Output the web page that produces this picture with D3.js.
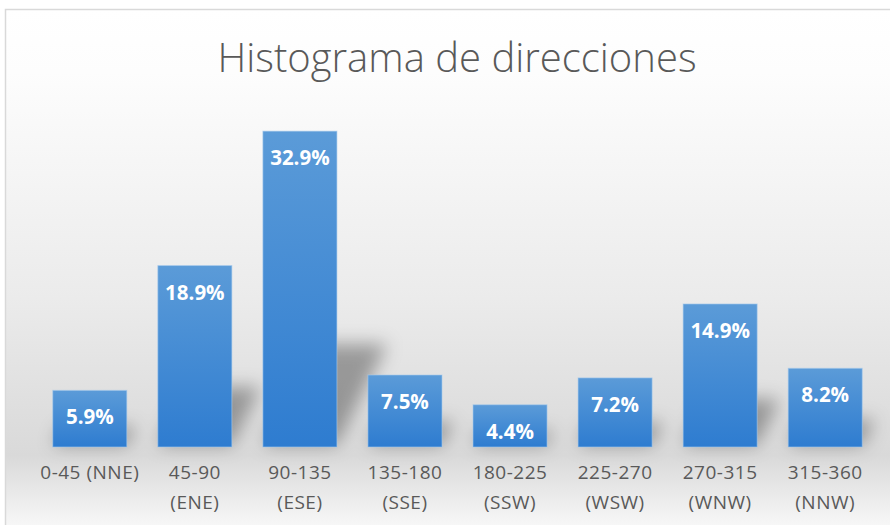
<!DOCTYPE html>
<html>
<head>
<meta charset="utf-8">
<script src="https://cdn.jsdelivr.net/npm/d3@7"></script>
<style>
    html, body { margin: 0; padding: 0; background: #ffffff; }
    svg { display: block; }
</style>
</head>
<body>
<div id="chart"></div>
<script>
    'use strict';

    var width = 890;
    var height = 525;

    // data
    var title = "Histograma de direcciones";
    var categories = ["0-45", "45-90", "90-135", "135-180", "180-225", "225-270", "270-315", "315-360"];
    var directions = ["NNE", "ENE", "ESE", "SSE", "SSW", "WSW", "WNW", "NNW"];
    var percentages = [5.9, 18.9, 32.9, 7.5, 4.4, 7.2, 14.9, 8.2];
    var tickLabels = [
        ["0-45 (NNE)"],
        ["45-90", "(ENE)"],
        ["90-135", "(ESE)"],
        ["135-180", "(SSE)"],
        ["180-225", "(SSW)"],
        ["225-270", "(WSW)"],
        ["270-315", "(WNW)"],
        ["315-360", "(NNW)"]
    ];

    var margin = {left: 37, right: 12, top: 111, bottom: 78};

    var svg = d3.select("#chart")
        .append("svg")
        .attr("width", width)
        .attr("height", height);

    var defs = svg.append("defs");

    // chart area background
    var bg = defs.append("linearGradient")
        .attr("id", "bgGrad")
        .attr("x1", 0).attr("y1", 0)
        .attr("x2", 0).attr("y2", 1);
    bg.append("stop").attr("offset", "0").attr("stop-color", "#ffffff");
    bg.append("stop").attr("offset", "0.12").attr("stop-color", "#fdfdfd");
    bg.append("stop").attr("offset", "0.55").attr("stop-color", "#ebebeb");
    bg.append("stop").attr("offset", "0.85").attr("stop-color", "#d9d9d9");
    bg.append("stop").attr("offset", "1").attr("stop-color", "#fbfbfb");

    var barGrad = defs.append("linearGradient")
        .attr("id", "barGrad")
        .attr("x1", 0).attr("y1", 0)
        .attr("x2", 0).attr("y2", 1);
    barGrad.append("stop").attr("offset", "0").attr("stop-color", "#5b9bd8");
    barGrad.append("stop").attr("offset", "1").attr("stop-color", "#2e7cd0");

    defs.append("filter")
        .attr("id", "shadowBlur")
        .attr("filterUnits", "userSpaceOnUse")
        .attr("x", 0).attr("y", 0)
        .attr("width", width).attr("height", height)
        .append("feGaussianBlur")
        .attr("stdDeviation", 9);

    svg.append("rect")
        .attr("x", 5.5)
        .attr("y", 9.5)
        .attr("width", width)
        .attr("height", height)
        .attr("fill", "url(#bgGrad)")
        .attr("stroke", "#d9d9d9")
        .attr("stroke-width", 1.5);

    svg.append("text")
        .attr("class", "title")
        .attr("x", 457)
        .attr("y", 72)
        .attr("text-anchor", "middle")
        .attr("font-family", "'Open Sans', 'Liberation Sans', sans-serif")
        .attr("font-weight", 300)
        .attr("font-size", 40)
        .attr("fill", "#595959")
        .text(title);

    var x = d3.scaleBand()
        .domain(categories)
        .range([margin.left, width - margin.right])
        .paddingInner(0.295)
        .paddingOuter(0.15);

    var y = d3.scaleLinear()
        .domain([0, 35])
        .range([height - margin.bottom, margin.top]);

    var bars = percentages.map(function (v, i) {
        return {cat: categories[i], dir: directions[i], value: v};
    });

    // perspective shadows behind each bar
    svg.append("g")
        .attr("filter", "url(#shadowBlur)")
        .selectAll("path")
        .data(bars)
        .enter()
        .append("path")
        .attr("d", function (d) {
            var x0 = x(d.cat), x1 = x0 + x.bandwidth();
            var base = y(0) - 2;
            var hs = (y(0) - y(d.value)) * 0.32;
            var dx = hs * 0.5;
            return "M" + x0 + "," + base + "L" + x1 + "," + base +
                "L" + (x1 + dx) + "," + (base - hs) + "L" + (x0 + dx) + "," + (base - hs) + "Z";
        })
        .attr("fill", "#000")
        .attr("opacity", 0.33);

    var barGroup = svg.append("g");

    barGroup.selectAll("rect")
        .data(bars)
        .enter()
        .append("rect")
        .attr("x", function (d) { return x(d.cat); })
        .attr("y", function (d) { return y(d.value); })
        .attr("width", x.bandwidth())
        .attr("height", function (d) { return y(0) - y(d.value); })
        .attr("fill", "url(#barGrad)")
        .attr("stroke", "#a9cbec")
        .attr("stroke-opacity", 0.6)
        .attr("stroke-width", 1);

    barGroup.selectAll("text")
        .data(bars)
        .enter()
        .append("text")
        .attr("x", function (d) { return x(d.cat) + x.bandwidth() / 2; })
        .attr("y", function (d) { return y(d.value) + 34; })
        .attr("text-anchor", "middle")
        .attr("font-family", "'Open Sans', 'Liberation Sans', sans-serif")
        .attr("font-weight", "bold")
        .attr("font-size", 20.5)
        .attr("fill", "#ffffff")
        .text(function (d) { return d.value.toFixed(1) + "%"; });

    // x axis
    var xAxis = d3.axisBottom(x).tickSize(0).tickFormat("");
    var axisG = svg.append("g")
        .attr("transform", "translate(0," + y(0) + ")")
        .call(xAxis);
    axisG.select(".domain").remove();

    var labels = axisG.selectAll(".tick")
        .append("text")
        .attr("text-anchor", "middle")
        .attr("font-family", "'Open Sans', 'Liberation Sans', sans-serif")
        .attr("font-size", 19)
        .attr("letter-spacing", 0.5)
        .attr("fill", "#595959");

    labels.selectAll("tspan")
        .data(function (d) { return tickLabels[categories.indexOf(d)]; })
        .enter()
        .append("tspan")
        .attr("x", 0)
        .attr("y", function (d, i) { return 32 + i * 30; })
        .text(function (d) { return d; });
</script>
</body>
</html>
